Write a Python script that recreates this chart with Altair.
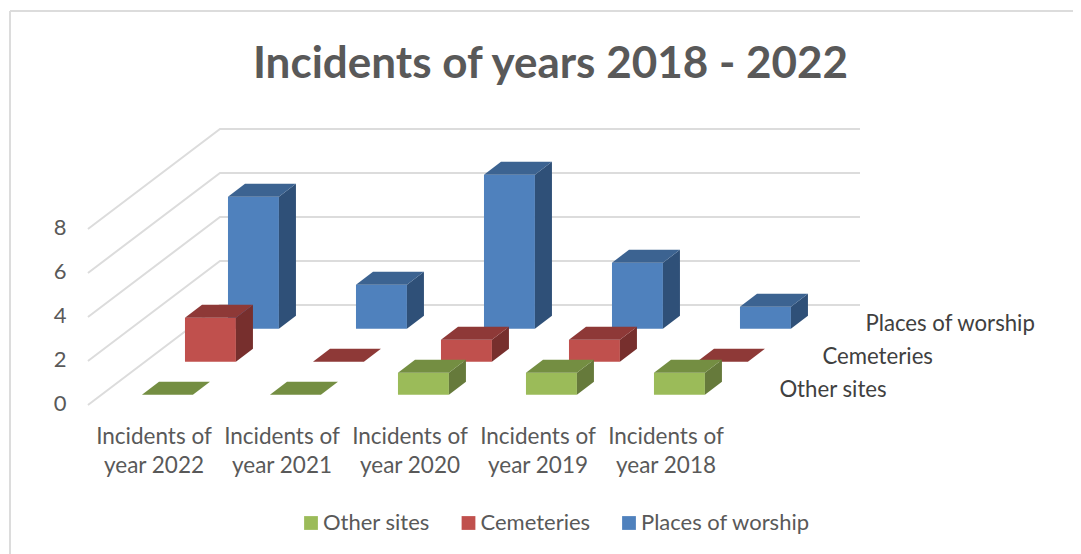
import altair as alt
import pandas as pd

# ---- data ----
categories = ["Incidents of\nyear 2022", "Incidents of\nyear 2021", "Incidents of\nyear 2020",
              "Incidents of\nyear 2019", "Incidents of\nyear 2018"]
series_names = ["Other sites", "Cemeteries", "Places of worship"]
other_sites = [0, 0, 1, 1, 1]
cemeteries = [2, 0, 1, 1, 0]
places_of_worship = [6, 2, 7, 3, 1]
axis_ticks = [0, 2, 4, 6, 8]

# ---- look ----
FRONT = ["#9BBB59", "#C0504D", "#4F81BD"]
TOP = ["#748E42", "#8E3937", "#3C6391"]
SIDE = ["#667A3B", "#772F2D", "#2F5078"]
GRID = "#DCDCDC"
FONT = "Lato"
TEXT = "#595959"

W, H = 1065, 546
X_DOM = [-82 / 128, (1073 - 90) / 128]
Y_DOM = [(403 - 554) / 22, (403 - 8) / 22]

# oblique projection, in axis units
BAR_W = 0.398
ROW_X = [0.406, 0.742, 1.078]
ROW_Y = [0.377, 1.877, 3.377]
TOP_DX, TOP_DY = 0.133, 0.59
WALL_DX, WALL_DY = 1.0156, 4.4545

xs = alt.Scale(domain=X_DOM, nice=False, zero=False)
ys = alt.Scale(domain=Y_DOM, nice=False, zero=False)
y_axis = alt.Axis(values=axis_ticks, grid=False, domain=False, ticks=False, title=None,
                  labelFont=FONT, labelFontSize=22, labelColor=TEXT, labelPadding=2, offset=-60)
X = lambda f="x": alt.X(f"{f}:Q", scale=xs, axis=None)
Y = lambda f="y": alt.Y(f"{f}:Q", scale=ys, axis=y_axis)

grid_rows = []
for v in axis_ticks:
    grid_rows += [
        dict(v=v, x=-0.016, y=v - 0.09),
        dict(v=v, x=WALL_DX, y=v + WALL_DY),
        dict(v=v, x=WALL_DX + 5.0, y=v + WALL_DY),
    ]
grid = alt.Chart(pd.DataFrame(grid_rows)).mark_line(color=GRID, strokeWidth=2).encode(
    x=X(), y=Y(), detail="v:N", order=alt.Order("x:Q"),
)

layers = [grid]
values = [other_sites, cemeteries, places_of_worship]
for s in [2, 1, 0]:
    front, top, side = [], [], []
    for c, val in enumerate(values[s]):
        x0 = c + ROW_X[s]
        base = ROW_Y[s]
        t = base + val
        front.append(dict(x=x0, x2=x0 + BAR_W, y=base, y2=t, series=series_names[s]))
        for x, a, b in [(x0, t, t), (x0 + TOP_DX, t, t + TOP_DY), (x0 + BAR_W, t, t + TOP_DY),
                        (x0 + BAR_W + TOP_DX, t + TOP_DY, t + TOP_DY)]:
            top.append(dict(id=c, x=x, y=a, y2=b))
        if val > 0:
            side.append(dict(id=c, x=x0 + BAR_W, y=base, y2=t))
            side.append(dict(id=c, x=x0 + BAR_W + TOP_DX, y=base + TOP_DY, y2=t + TOP_DY))
    layers.append(alt.Chart(pd.DataFrame(front)).mark_rect(strokeWidth=0).encode(
        x=X(), x2="x2:Q", y=Y(), y2="y2:Q",
        fill=alt.Fill("series:N", scale=alt.Scale(domain=series_names, range=FRONT),
                      sort=series_names,
                      legend=alt.Legend(orient="none", legendX=292, legendY=504, direction="horizontal",
                                        columns=3, title=None, symbolType="square", symbolSize=190,
                                        symbolStrokeWidth=0, labelFont=FONT, labelFontSize=22,
                                        labelColor=TEXT, labelLimit=220, columnPadding=27.5,
                                        gridAlign="each", labelOffset=1))))
    if side:
        layers.append(alt.Chart(pd.DataFrame(side)).mark_area(color=SIDE[s], orient="vertical").encode(
            x=X(), y=Y(), y2="y2:Q", detail="id:N"))
    layers.append(alt.Chart(pd.DataFrame(top)).mark_area(color=TOP[s], orient="vertical").encode(
        x=X(), y=Y(), y2="y2:Q", detail="id:N"))

cat_df = pd.DataFrame({"label": categories, "x": [c + 0.5 for c in range(5)], "y": [-1.53] * 5})
layers.append(alt.Chart(cat_df).mark_text(
    font=FONT, fontSize=22.5, color=TEXT, lineBreak="\n", lineHeight=29, baseline="middle", align="center"
).encode(x=X(), y=Y(), text="label:N"))

row_df = pd.DataFrame({"label": series_names,
                       "x": [r + 4.98 for r in ROW_X],
                       "y": [r + 0.214 for r in ROW_Y]})
layers.append(alt.Chart(row_df).mark_text(
    font=FONT, fontSize=22.2, color="#404040", baseline="middle", align="left"
).encode(x=X(), y=Y(), text="label:N"))

frame_left = alt.Chart(pd.DataFrame({"a": [0]})).mark_rule(color=GRID, strokeWidth=2).encode(
    x=alt.value(2), y=alt.value(3), y2=alt.value(H))
frame_top = alt.Chart(pd.DataFrame({"a": [0]})).mark_rule(color=GRID, strokeWidth=2).encode(
    x=alt.value(2), x2=alt.value(W), y=alt.value(3))
layers += [frame_left, frame_top]

chart = alt.layer(*layers).resolve_scale(x="shared", y="shared").properties(
    width=W, height=H, padding=0, autosize=alt.AutoSizeParams(type="none"),
    title=alt.TitleParams("Incidents of years 2018 - 2022", font=FONT, fontSize=44, fontWeight="bold",
                          color=TEXT, anchor="middle", dx=10, dy=118, baseline="alphabetic"),
).configure_view(stroke=None)

chart.save("out.html", embed_options={"renderer": "svg", "actions": False})
